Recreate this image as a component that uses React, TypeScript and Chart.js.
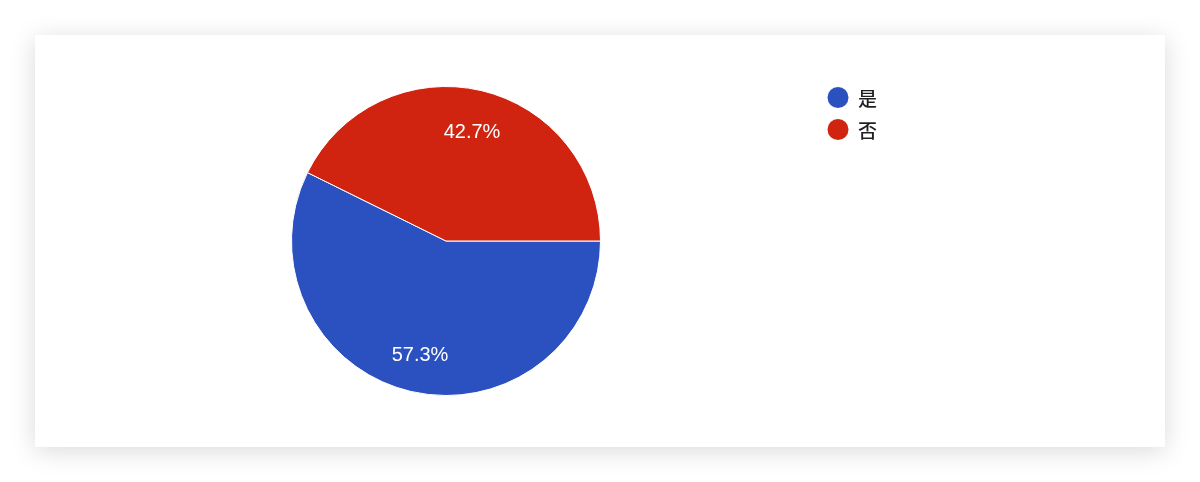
import React, { useEffect, useRef } from "react";
import { Chart, registerables } from "chart.js";

Chart.register(...registerables);

const categories: string[] = ["是", "否"];
const percentages: number[] = [57.3, 42.7];
const sliceColors: string[] = ["#2b51c1", "#d02411"];

const labelPlugin = {
  id: "sliceLabels",
  afterDatasetsDraw(chart: any) {
    const { ctx } = chart;
    const meta = chart.getDatasetMeta(0);
    const values = chart.data.datasets[0].data as number[];
    ctx.save();
    ctx.font = '20px "Liberation Sans", Arial, sans-serif';
    ctx.fillStyle = "#ffffff";
    ctx.textAlign = "center";
    ctx.textBaseline = "middle";
    meta.data.forEach((arc: any, i: number) => {
      const { x, y, startAngle, endAngle, outerRadius } = arc.getProps(
        ["x", "y", "startAngle", "endAngle", "outerRadius"],
        true
      );
      const mid = (startAngle + endAngle) / 2;
      const r = outerRadius * 0.74;
      ctx.fillText(values[i].toFixed(1) + "%", x + Math.cos(mid) * r, y + Math.sin(mid) * r + 3);
    });
    ctx.restore();
  },
};

const legendPlugin = {
  id: "customLegend",
  afterDraw(chart: any) {
    const { ctx } = chart;
    const labels = chart.data.labels as string[];
    const colors = chart.data.datasets[0].backgroundColor as string[];
    ctx.save();
    ctx.font = '500 19px "Noto Sans CJK SC", sans-serif';
    ctx.textBaseline = "middle";
    ctx.textAlign = "left";
    labels.forEach((lab, i) => {
      const cy = 62.5 + i * 32;
      ctx.beginPath();
      ctx.fillStyle = colors[i];
      ctx.arc(803, cy, 10.5, 0, Math.PI * 2);
      ctx.fill();
      ctx.fillStyle = "#1f1f1f";
      ctx.fillText(lab, 823, cy + 1);
    });
    ctx.restore();
  },
};

export default function App() {
  const canvasRef = useRef<HTMLCanvasElement | null>(null);

  useEffect(() => {
    if (!canvasRef.current) return;
    const chart = new Chart(canvasRef.current, {
      type: "pie",
      data: {
        labels: categories,
        datasets: [
          {
            data: percentages,
            backgroundColor: sliceColors,
            borderColor: "#ffffff",
            borderWidth: 1,
          },
        ],
      },
      options: {
        animation: false,
        responsive: false,
        rotation: 90,
        layout: { padding: { left: 256, right: 564, top: 51, bottom: 51 } },
        plugins: {
          legend: { display: false },
          tooltip: { enabled: false },
        },
      },
      plugins: [labelPlugin, legendPlugin],
    });
    return () => chart.destroy();
  }, []);

  return (
    <div
      style={{
        position: "absolute",
        left: 35,
        top: 35,
        width: 1130,
        height: 412,
        background: "#ffffff",
        boxShadow: "0 4px 24px rgba(0,0,0,0.15)",
      }}
    >
      <canvas ref={canvasRef} width={1130} height={412} style={{ display: "block" }} />
    </div>
  );
}
